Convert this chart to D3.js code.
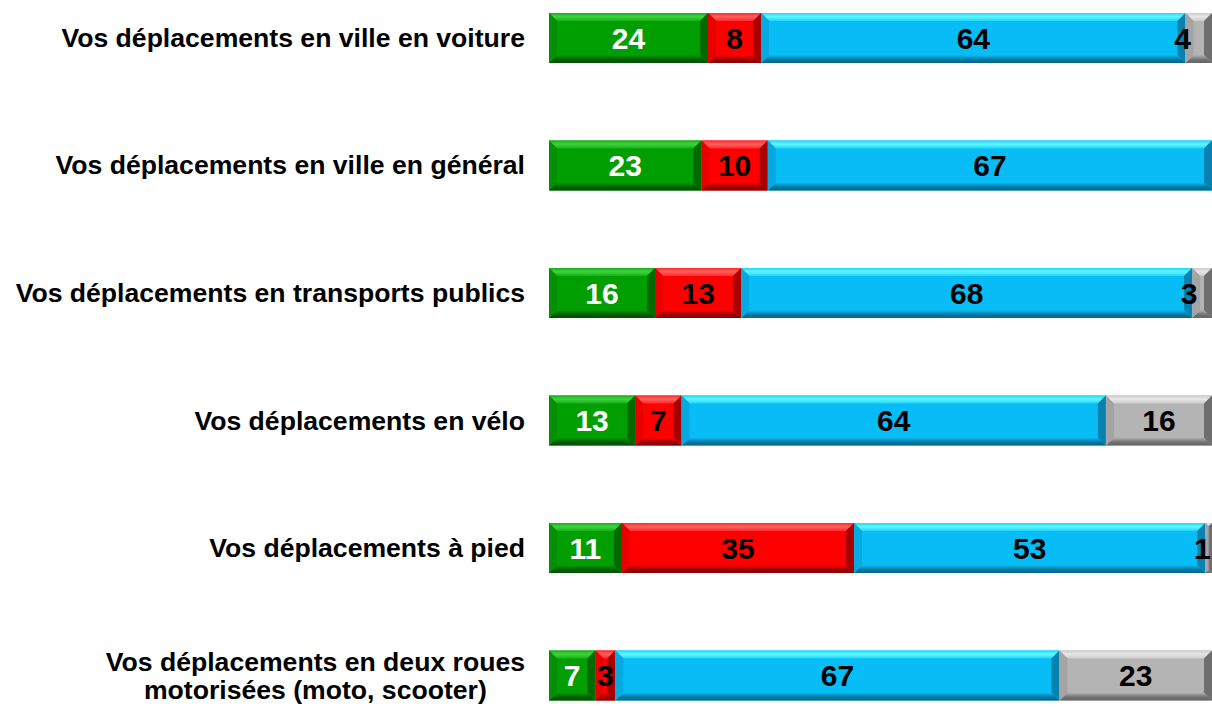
<!DOCTYPE html>
<html>
<head>
<meta charset="utf-8">
<script src="https://cdn.jsdelivr.net/npm/d3@7"></script>
<style>
  body { margin: 0; background: #fff; }
  svg text { font-family: Arial, "Liberation Sans", sans-serif; font-weight: bold; }
</style>
</head>
<body>
<div id="chart"></div>
<script>
var width = 1212, height = 707;

// data
const categories = [
    "Vos déplacements en ville en voiture",
    "Vos déplacements en ville en général",
    "Vos déplacements en transports publics",
    "Vos déplacements en vélo",
    "Vos déplacements à pied",
    "Vos déplacements en deux roues\nmotorisées (moto, scooter)"
];
const seriesNames = ["vert", "rouge", "bleu", "gris"];
const vert  = [24, 23, 16, 13, 11, 7];
const rouge = [8, 10, 13, 7, 35, 3];
const bleu  = [64, 67, 68, 64, 53, 67];
const gris  = [4, 0, 3, 16, 1, 23];

const palette = {
    vert:  { base: "#009e00", hi: "#3fd43f", top: "#16b016", left: "#058f05", right: "#006a00", bot: "#005c00", txt: "#fff" },
    rouge: { base: "#ff0000", hi: "#ff6060", top: "#ff2a2a", left: "#e80000", right: "#a80000", bot: "#980000", txt: "#000" },
    bleu:  { base: "#08bdf6", hi: "#5ff8ff", top: "#20d4fb", left: "#06a9e0", right: "#0682b0", bot: "#05749e", txt: "#000" },
    gris:  { base: "#b4b4b4", hi: "#e6e6e6", top: "#cccccc", left: "#a4a4a4", right: "#6e6e6e", bot: "#707070", txt: "#000" }
};

const values = { vert, rouge, bleu, gris };

let svg = d3.select("#chart").append("svg")
    .attr("width", width)
    .attr("height", height)

var x = d3.scaleLinear().domain([0, 100]).range([549, 1212]);
var y = d3.scaleBand().domain(categories).range([13, 700.5]).paddingInner(0.608).paddingOuter(0);

// gradients for the bevel faces
var defs = svg.append("defs");
seriesNames.forEach(s => {
    var c = palette[s];
    var gTop = defs.append("linearGradient").attr("id", "top-" + s)
        .attr("x1", 0).attr("y1", 0).attr("x2", 0).attr("y2", 1);
    gTop.append("stop").attr("offset", 0).attr("stop-color", c.top);
    gTop.append("stop").attr("offset", 0.45).attr("stop-color", c.hi);
    gTop.append("stop").attr("offset", 1).attr("stop-color", c.top);
    var gBot = defs.append("linearGradient").attr("id", "bot-" + s)
        .attr("x1", 0).attr("y1", 0).attr("x2", 0).attr("y2", 1);
    gBot.append("stop").attr("offset", 0).attr("stop-color", c.base);
    gBot.append("stop").attr("offset", 0.6).attr("stop-color", c.bot);
    gBot.append("stop").attr("offset", 1).attr("stop-color", d3.color(c.bot).darker(0.3));
});

// stack the series
var rows = categories.map((cat, i) => {
    var acc = 0, segs = [];
    seriesNames.forEach(s => {
        var v = values[s][i];
        segs.push({ cat: cat, s: s, v: v, x0: acc, x1: acc + v });
        acc += v;
    });
    return segs;
});

var bars = svg.append("g");

rows.forEach(segs => {
    segs.filter(d => d.v > 0).forEach(d => {
        var c = palette[d.s];
        var x0 = x(d.x0), x1 = x(d.x1);
        var y0 = y(d.cat), y1 = y0 + y.bandwidth();
        var b = Math.min(8, (x1 - x0) / 2, (y1 - y0) / 2);
        var g = bars.append("g");
        g.append("rect")
            .attr("x", x0).attr("y", y0)
            .attr("width", x1 - x0).attr("height", y1 - y0)
            .attr("fill", c.base);
        var pt = p => p.map(q => q.join(",")).join(" ");
        g.append("polygon")
            .attr("points", pt([[x0, y0], [x1, y0], [x1 - b, y0 + b], [x0 + b, y0 + b]]))
            .attr("fill", "url(#top-" + d.s + ")");
        g.append("polygon")
            .attr("points", pt([[x0, y1], [x1, y1], [x1 - b, y1 - b], [x0 + b, y1 - b]]))
            .attr("fill", "url(#bot-" + d.s + ")");
        g.append("polygon")
            .attr("points", pt([[x0, y0], [x0 + b, y0 + b], [x0 + b, y1 - b], [x0, y1]]))
            .attr("fill", c.left);
        g.append("polygon")
            .attr("points", pt([[x1, y0], [x1 - b, y0 + b], [x1 - b, y1 - b], [x1, y1]]))
            .attr("fill", c.right);
    });
});

// value labels (tiny grey ends sit on the left edge of their segment, as in the original)
rows.forEach(segs => {
    svg.append("g").selectAll("text")
        .data(segs.filter(d => d.v > 0))
        .enter()
        .append("text")
        .attr("x", d => (d.s == "gris" && d.v < 5) ? x(d.x0) - 3 : (x(d.x0) + x(d.x1)) / 2)
        .attr("y", d => y(d.cat) + y.bandwidth() / 2)
        .attr("dy", "0.36em")
        .attr("text-anchor", "middle")
        .style("font-size", "30px")
        .attr("fill", d => palette[d.s].txt)
        .text(d => d.v);
});

// category labels
var labels = svg.append("g");
categories.forEach(cat => {
    var lines = cat.split("\n");
    var t = labels.append("text")
        .style("font-size", "26.6px")
        .attr("fill", "#000");
    lines.forEach((ln, j) => {
        t.append("tspan").attr("x", 0)
            .attr("dy", j == 0 ? 0 : "1.06em")
            .text(ln);
    });
    var cy = y(cat) + y.bandwidth() / 2;
    if (lines.length > 1) {
        var w = d3.max(t.selectAll("tspan").nodes(), n => n.getComputedTextLength());
        t.attr("text-anchor", "middle")
            .attr("transform", "translate(" + (525 - w / 2) + "," + (cy - 14 * (lines.length - 1) + 9) + ")");
    } else {
        t.attr("text-anchor", "end")
            .attr("transform", "translate(525," + (cy + 9) + ")");
    }
});
</script>
</body>
</html>
